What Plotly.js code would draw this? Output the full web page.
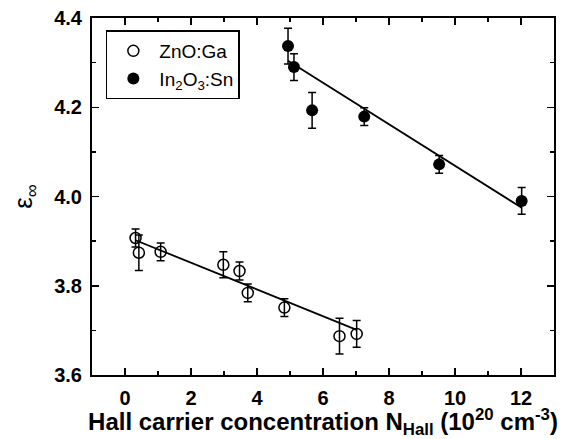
<!DOCTYPE html>
<html><head><meta charset="utf-8">
<script src="https://cdn.plot.ly/plotly-3.0.1.min.js"></script>
<style>body{margin:0;background:#fff}#plot{width:570px;height:439px}</style>
</head><body><div id="plot"></div>
<script>
const znoX   = [0.32, 0.42, 1.08, 2.98, 3.47, 3.72, 4.83, 6.50, 7.02];
const znoY   = [3.907, 3.874, 3.876, 3.847, 3.833, 3.784, 3.751, 3.687, 3.692];
const znoErr = [0.02, 0.04, 0.02, 0.029, 0.02, 0.02, 0.02, 0.04, 0.03];
const itoX   = [4.94, 5.12, 5.67, 7.25, 9.52, 12.02];
const itoY   = [4.337, 4.290, 4.193, 4.179, 4.072, 3.990];
const itoErr = [0.04, 0.03, 0.04, 0.02, 0.02, 0.03];
const znoFitX = [0.32, 7.02];
const znoFitY = [3.902, 3.701];
const itoFitX = [4.94, 12.02];
const itoFitY = [4.304, 3.975];
const xTicks = [0, 2, 4, 6, 8, 10, 12];
const yTicks = [3.6, 3.8, 4.0, 4.2, 4.4];

const FONT = 'Liberation Sans, Arial, sans-serif';
const errStyle = {type:'data', visible:true, color:'#000', thickness:1.5, width:4};
const traces = [
  {x:znoFitX, y:znoFitY, mode:'lines', line:{color:'#000', width:1.8}, showlegend:false, hoverinfo:'skip'},
  {x:itoFitX, y:itoFitY, mode:'lines', line:{color:'#000', width:1.8}, showlegend:false, hoverinfo:'skip'},
  {x:znoX, y:znoY, name:'ZnO:Ga', mode:'markers', type:'scatter',
   marker:{symbol:'circle-open', size:11, color:'#000', line:{width:1.5, color:'#000'}},
   error_y:Object.assign({array:znoErr}, errStyle)},
  {x:itoX, y:itoY, name:'In<sub>2</sub>O<sub>3</sub>:Sn', mode:'markers', type:'scatter',
   marker:{symbol:'circle', size:12, color:'#000'},
   error_y:Object.assign({array:itoErr}, errStyle)}
];
const axisCommon = {
  showline:true, linecolor:'#000', linewidth:2, mirror:'ticks',
  ticks:'inside', ticklen:7, tickwidth:1.5, tickcolor:'#000',
  showgrid:false, zeroline:false, ticklabelstandoff:4,
  tickfont:{family:FONT, size:20, color:'#000'}
};
const layout = {
  width:570, height:439,
  margin:{l:92, r:16, t:18, b:64},
  paper_bgcolor:'#fff', plot_bgcolor:'#fff',
  showlegend:true,
  legend:{x:0.03, y:0.965, xanchor:'left', yanchor:'top', bordercolor:'#000', borderwidth:1.5,
    bgcolor:'#fff', font:{family:FONT, size:19, color:'#000'},
    itemwidth:42, tracegroupgap:0},
  xaxis:Object.assign({}, axisCommon, {
    range:[-1, 13], tickvals:xTicks, ticktext:xTicks.map(v=>'<b>'+v+'</b>'),
    minor:{dtick:1, tick0:0, ticks:'inside', ticklen:4, tickwidth:1.5, tickcolor:'#000'},
    title:{text:'<b>Hall carrier concentration N<sub>Hall</sub> (10<sup>20</sup> cm<sup>-3</sup>)</b>',
      font:{family:FONT, size:24, color:'#000'}, standoff:5}
  }),
  yaxis:Object.assign({}, axisCommon, {
    range:[3.6, 4.4], tickvals:yTicks, ticktext:yTicks.map(v=>'<b>'+v.toFixed(1)+'</b>'),
    minor:{dtick:0.1, tick0:3.6, ticks:'inside', ticklen:4, tickwidth:1.5, tickcolor:'#000'},
    title:{text:'ε<sub>∞</sub>', font:{family:FONT, size:26, color:'#000'}, standoff:14}
  })
};
Plotly.newPlot('plot', traces, layout, {displayModeBar:false, staticPlot:true});
</script></body></html>
